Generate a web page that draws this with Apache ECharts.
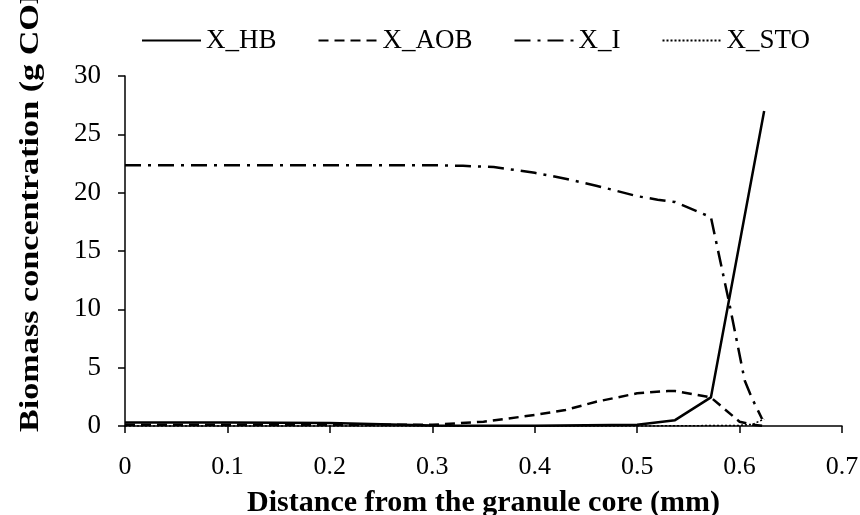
<!DOCTYPE html>
<html><head><meta charset="utf-8">
<script src="https://cdn.jsdelivr.net/npm/echarts@6/dist/echarts.min.js"></script>
<style>html,body{margin:0;padding:0;background:#fff}#c{width:860px;height:515px}</style>
</head><body><div id="c"></div>
<script>
var xTicks = [0, 0.1, 0.2, 0.3, 0.4, 0.5, 0.6, 0.7];
var yTicks = [0, 5, 10, 15, 20, 25, 30];

var hbX = [0, 0.1, 0.2, 0.3, 0.4, 0.5, 0.537, 0.572, 0.624];
var hbY = [0.3, 0.3, 0.25, 0.05, 0.03, 0.1, 0.5, 2.45, 27.0];

var aobX = [0, 0.1, 0.2, 0.3, 0.35, 0.4, 0.43, 0.46, 0.5, 0.53, 0.537, 0.572, 0.6, 0.613, 0.624];
var aobY = [0.1, 0.1, 0.1, 0.1, 0.37, 0.94, 1.37, 2.08, 2.8, 3.0, 3.0, 2.45, 0.36, 0.1, 0.0];

var iX = [0, 0.1, 0.2, 0.3, 0.33, 0.36, 0.4, 0.43, 0.46, 0.5, 0.52, 0.537, 0.572, 0.59, 0.605, 0.612, 0.622];
var iY = [22.35, 22.35, 22.35, 22.35, 22.3, 22.2, 21.7, 21.2, 20.6, 19.7, 19.4, 19.2, 17.9, 10.5, 3.9, 2.4, 0.6];

var stoX = [0, 0.1, 0.2, 0.3, 0.4, 0.5, 0.6, 0.613, 0.624];
var stoY = [0, 0, 0, 0, 0, 0, 0.05, 0.15, 0.6];

var names = ['X_HB', 'X_AOB', 'X_I', 'X_STO'];

function zip(xs, ys) { return xs.map(function (x, i) { return [x, ys[i]]; }); }

var FONT = 'Liberation Serif';
var chart = echarts.init(document.getElementById('c'), null, {renderer: 'canvas'});
var base = {type: 'line', symbol: 'none', smooth: false, z: 3};
chart.setOption({
  animation: false,
  backgroundColor: '#fff',
  grid: {left: 125, right: 18, top: 76, bottom: 89, containLabel: false, outerBoundsMode: 'none'},
  legend: {
    top: 27, left: 141, padding: 0, itemWidth: 59, itemHeight: 12, itemGap: 41,
    itemStyle: {opacity: 0},
    textStyle: {fontFamily: FONT, fontSize: 27, color: '#000'},
    data: names
  },
  xAxis: {
    type: 'value', min: 0, max: 0.7, interval: 0.1,
    name: 'Distance from the granule core (mm)', nameLocation: 'middle', nameGap: 62,
    nameTextStyle: {fontFamily: FONT, fontSize: 30, fontWeight: 'bold', color: '#000'},
    axisLine: {lineStyle: {color: '#000', width: 1.5}},
    axisTick: {show: true, inside: false, length: 7, lineStyle: {color: '#000', width: 1.5}},
    axisLabel: {fontFamily: FONT, fontSize: 26, color: '#000', margin: 28,
      formatter: function (v) { var t = xTicks.find(function (k) { return Math.abs(k - v) < 1e-9; }); return t === undefined ? '' : String(t); }},
    splitLine: {show: false}
  },
  yAxis: {
    type: 'value', min: 0, max: 30, interval: 5,
    axisLine: {show: true, lineStyle: {color: '#000', width: 1.5}},
    axisTick: {show: true, inside: false, length: 7, lineStyle: {color: '#000', width: 1.5}},
    axisLabel: {fontFamily: FONT, fontSize: 27, color: '#000', margin: 24, padding: [10, 0, 0, 0],
      formatter: function (v) { return yTicks.indexOf(v) >= 0 ? String(v) : ''; }},
    splitLine: {show: false}
  },
  graphic: [{
    type: 'text', x: 31, y: 432, rotation: Math.PI / 2, scaleX: 1.22, scaleY: 1,
    style: {text: 'Biomass concentration (g COD/L)', fontFamily: FONT, fontSize: 28, fontWeight: 'bold',
      fill: '#000', textAlign: 'left', textVerticalAlign: 'middle'}
  }],
  series: [
    Object.assign({}, base, {name: names[0], data: zip(hbX, hbY), lineStyle: {color: '#000', width: 2.5, type: 'solid'}, itemStyle: {color: '#000'}}),
    Object.assign({}, base, {name: names[1], data: zip(aobX, aobY), lineStyle: {color: '#000', width: 2.5, type: [10, 6]}, itemStyle: {color: '#000'}}),
    Object.assign({}, base, {name: names[2], data: zip(iX, iY), lineStyle: {color: '#000', width: 2.5, type: [16, 7, 3, 7]}, itemStyle: {color: '#000'}}),
    Object.assign({}, base, {name: names[3], data: zip(stoX, stoY), lineStyle: {color: '#000', width: 1.5, type: [2, 2]}, itemStyle: {color: '#000'}})
  ]
});
</script></body></html>
